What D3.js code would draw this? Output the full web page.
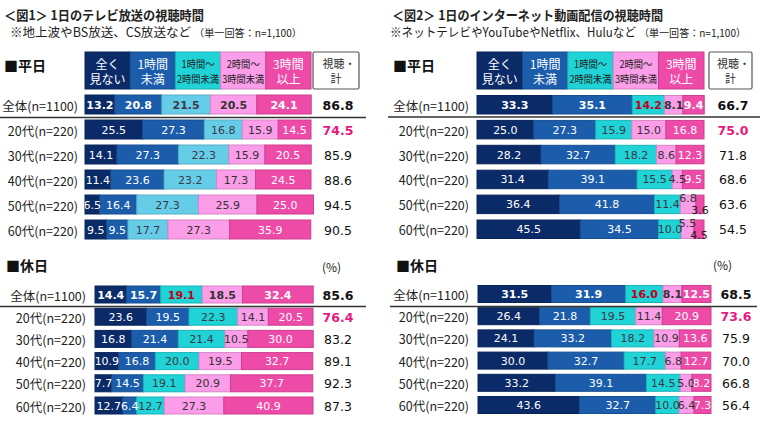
<!DOCTYPE html>
<html><head><meta charset="utf-8">
<script src="https://cdn.jsdelivr.net/npm/d3@7"></script>
<style>body{margin:0;background:#fff}svg{display:block}</style>
</head><body><svg id="c" width="760" height="427"></svg>
<script>
const categories = ["全体(n=1100)","20代(n=220)","30代(n=220)","40代(n=220)","50代(n=220)","60代(n=220)"];
const seriesNames = ["全く見ない","1時間未満","1時間〜2時間未満","2時間〜3時間未満","3時間以上"];
const headerLines = [["全く","見ない"],["1時間","未満"],["1時間〜","2時間未満"],["2時間〜","3時間未満"],["3時間","以上"]];
const totalHeader = ["視聴・","計"];

const tvWeekday = [[13.2,20.8,21.5,20.5,24.1],[25.5,27.3,16.8,15.9,14.5],[14.1,27.3,22.3,15.9,20.5],[11.4,23.6,23.2,17.3,24.5],[6.5,16.4,27.3,25.9,25.0],[9.5,9.5,17.7,27.3,35.9]];
const tvWeekdayTotal = [86.8,74.5,85.9,88.6,94.5,90.5];
const tvHoliday = [[14.4,15.7,19.1,18.5,32.4],[23.6,19.5,22.3,14.1,20.5],[16.8,21.4,21.4,10.5,30.0],[10.9,16.8,20.0,19.5,32.7],[7.7,14.5,19.1,20.9,37.7],[12.7,6.4,12.7,27.3,40.9]];
const tvHolidayTotal = [85.6,76.4,83.2,89.1,92.3,87.3];
const netWeekday = [[33.3,35.1,14.2,8.1,9.4],[25.0,27.3,15.9,15.0,16.8],[28.2,32.7,18.2,8.6,12.3],[31.4,39.1,15.5,4.5,9.5],[36.4,41.8,11.4,6.8,3.6],[45.5,34.5,10.0,5.5,4.5]];
const netWeekdayTotal = [66.7,75.0,71.8,68.6,63.6,54.5];
const netHoliday = [[31.5,31.9,16.0,8.1,12.5],[26.4,21.8,19.5,11.4,20.9],[24.1,33.2,18.2,10.9,13.6],[30.0,32.7,17.7,6.8,12.7],[33.2,39.1,14.5,5.0,8.2],[43.6,32.7,10.0,6.4,7.3]];
const netHolidayTotal = [68.5,73.6,75.9,70.0,66.8,56.4];

const JP = "'Noto Sans CJK JP','Noto Sans',sans-serif";
const NUM = "'DejaVu Sans',Verdana,sans-serif";
const palSky = ["#0b2a68","#1b5dab","#66cde9","#fb9de8","#ee4aa7"];
const palTeal = ["#0b2a68","#1b5dab","#1fd3d6","#fb9de8","#ee4aa7"];
const headPal = ["#0b2a68","#1b5dab","#1fd3d6","#fb9de8","#ee4aa7"];
const labelCol = ["#ffffff","#ffffff","#3d3845","#333333","#ffffff"];

const svg = d3.select("#c");
let clipId = 0;

function title(x, y, t1, w1, x2, y2, t2, w2, t3, w3) {
  svg.append("text").attr("x", x).attr("y", y).attr("font-family", JP).attr("font-weight", "bold")
    .attr("font-size", 13).attr("fill", "#222").attr("textLength", w1).attr("lengthAdjust", "spacingAndGlyphs").text(t1);
  svg.append("text").attr("x", x2).attr("y", y2).attr("font-family", JP).attr("fill", "#222")
    .attr("font-size", 12.5).attr("textLength", w2).attr("lengthAdjust", "spacingAndGlyphs").text(t2);
  svg.append("text").attr("x", x2 + w2 + 3).attr("y", y2).attr("font-family", JP).attr("fill", "#222")
    .attr("font-size", 10).attr("textLength", w3).attr("lengthAdjust", "spacingAndGlyphs").text(t3);
}

function sectionLabel(x, y, t) {
  svg.append("text").attr("x", x).attr("y", y).attr("font-family", JP).attr("font-weight", "bold")
    .attr("font-size", 14).attr("fill", "#111").attr("dominant-baseline", "central").text("■" + t);
}

function header(x0, x1, y0, y1, bx0, bx1) {
  const hb = d3.scaleBand().domain(d3.range(5)).range([x0, x1]);
  const g = svg.append("g");
  const sizes = [12, 12, 10.5, 10.5, 12];
  const cols = ["#fff", "#fff", "#222", "#222", "#fff"];
  d3.range(5).forEach(i => {
    g.append("rect").attr("x", hb(i)).attr("y", y0).attr("width", hb.bandwidth()).attr("height", y1 - y0)
      .attr("fill", headPal[i]).attr("stroke", d3.color(headPal[i]).darker(0.5)).attr("stroke-width", 1);
    const cx = hb(i) + hb.bandwidth() / 2, cy = (y0 + y1) / 2;
    headerLines[i].forEach((ln, j) => {
      const t = g.append("text").attr("x", cx).attr("y", cy + (j === 0 ? -7.5 : 7.5)).attr("text-anchor", "middle")
        .attr("dominant-baseline", "central").attr("font-family", JP).attr("font-size", sizes[i])
        .attr("fill", cols[i]).text(ln);
      if (sizes[i] < 11) t.attr("textLength", ln.length >= 5 ? 42 : 33).attr("lengthAdjust", "spacingAndGlyphs");
    });
  });
  g.append("rect").attr("x", bx0).attr("y", y0).attr("width", bx1 - bx0).attr("height", y1 - y0)
    .attr("fill", "#fff").attr("stroke", "#555").attr("stroke-width", 1.2).attr("rx", 1.5);
  totalHeader.forEach((ln, j) => {
    g.append("text").attr("x", (bx0 + bx1) / 2 + (j === 0 ? 3 : 0)).attr("y", (y0 + y1) / 2 + (j === 0 ? -7.5 : 7.5))
      .attr("text-anchor", "middle").attr("dominant-baseline", "central").attr("font-family", JP)
      .attr("font-size", 11).attr("fill", "#333").text(ln);
  });
}

function panel(o) {
  const x = d3.scaleLinear().domain([0, 100]).range([o.x0, o.x1]);
  const p = 1 - o.barH / o.step;
  const y = d3.scaleBand().domain(categories).range([o.yTop, o.yTop + o.step * 5 + o.barH]).paddingInner(p).paddingOuter(0);
  const rows = categories.map((c, i) => ({ cat: c, vals: o.data[i] }));
  const stack = d3.stack().keys(d3.range(5)).value((d, k) => d.vals[k])(rows);
  const g = svg.append("g");
  stack.forEach((layer, k) => {
    g.selectAll(null).data(layer).join("rect")
      .attr("x", d => x(d[0])).attr("y", d => y(d.data.cat))
      .attr("width", d => x(d[1]) - x(d[0])).attr("height", y.bandwidth())
      .attr("fill", o.pal[k]).attr("stroke", d3.color(o.pal[k]).darker(0.45)).attr("stroke-width", 1);
  });
  const id = "clip" + (clipId++);
  svg.append("clipPath").attr("id", id).append("rect").attr("x", o.x0).attr("y", 0).attr("width", 760 - o.x0).attr("height", 427);
  const lg = svg.append("g").attr("clip-path", `url(#${id})`);
  stack.forEach((layer, k) => {
    layer.forEach((d, i) => {
      const last = d.data.vals[4];
      let dy = 0, col = labelCol[k];
      if (last < 5 && k === 4) { dy = 5.5; col = "#222"; }
      if (last < 5 && k === 3) dy = -6.5;
      if (i === 0 && k === 2 && o.redTotalThird) col = "#c0001a";
      lg.append("text").attr("x", (x(d[0]) + x(d[1])) / 2).attr("y", y(d.data.cat) + y.bandwidth() / 2 + dy + 0.5)
        .attr("text-anchor", "middle").attr("dominant-baseline", "central")
        .attr("font-family", NUM).attr("font-size", 11).attr("font-weight", i === 0 ? "bold" : "normal")
        .attr("fill", col).text(d3.format(".1f")(d.data.vals[k]));
    });
  });
  g.selectAll(null).data(categories).join("text")
    .attr("x", o.labelRight).attr("y", d => y(d) + y.bandwidth() / 2 + 0.5)
    .attr("text-anchor", "end").attr("dominant-baseline", "central")
    .attr("font-family", JP).attr("font-size", 12.5).attr("fill", "#222").text(d => d);
  g.selectAll(null).data(o.totals).join("text")
    .attr("x", o.totalX).attr("y", (d, i) => y(categories[i]) + y.bandwidth() / 2 + 0.5)
    .attr("text-anchor", "middle").attr("dominant-baseline", "central")
    .attr("font-family", NUM).attr("font-size", 12.5)
    .attr("font-weight", (d, i) => i <= 1 ? "bold" : "normal")
    .attr("fill", (d, i) => i === 1 ? "#e8197f" : "#111").text(d => d3.format(".1f")(d));
  g.append("line").attr("x1", o.sepX0).attr("x2", o.sepX1).attr("y1", o.sepY).attr("y2", o.sepY)
    .attr("stroke", "#333").attr("stroke-width", 1.6);
}

// Left: TV
title(4, 19.5, "＜図1＞ 1日のテレビ放送の視聴時間", 200, 10, 36.5, "※地上波やBS放送、CS放送など", 181, "（単一回答：n=1,100）", 108);
sectionLabel(4, 65, "平日");
header(85, 311, 52, 89, 313, 359);
panel({ data: tvWeekday, totals: tvWeekdayTotal, x0: 85, x1: 311, yTop: 95, step: 25, barH: 19,
  labelRight: 78, totalX: 338, sepY: 117.5, sepX0: 0, sepX1: 366, pal: palSky, redTotalThird: false });
sectionLabel(6, 265, "休日");
svg.append("text").attr("x", 322).attr("y", 266).attr("font-family", JP).attr("font-size", 12)
  .attr("dominant-baseline", "central").attr("fill", "#222").text("(%)");
panel({ data: tvHoliday, totals: tvHolidayTotal, x0: 95, x1: 313, yTop: 286, step: 22.2, barH: 17,
  labelRight: 86, totalX: 338, sepY: 306.5, sepX0: 0, sepX1: 366, pal: palTeal, redTotalThird: true });

// Right: Internet
title(392, 19.5, "＜図2＞ 1日のインターネット動画配信の視聴時間", 271, 390, 36.5, "※ネットテレビやYouTubeやNetflix、Huluなど", 246, "（単一回答：n=1,100）", 107);
sectionLabel(393, 65, "平日");
header(477, 704, 52, 89, 709, 752);
panel({ data: netWeekday, totals: netWeekdayTotal, x0: 477, x1: 704, yTop: 95.5, step: 24.9, barH: 18.5,
  labelRight: 469, totalX: 733, sepY: 117, sepX0: 388, sepX1: 760, pal: palTeal, redTotalThird: true });
sectionLabel(396, 265, "休日");
svg.append("text").attr("x", 713).attr("y", 264).attr("font-family", JP).attr("font-size", 12)
  .attr("dominant-baseline", "central").attr("fill", "#222").text("(%)");
panel({ data: netHoliday, totals: netHolidayTotal, x0: 478, x1: 711, yTop: 285.5, step: 22.2, barH: 17,
  labelRight: 469, totalX: 736, sepY: 306.5, sepX0: 390, sepX1: 757, pal: palTeal, redTotalThird: true });
</script></body></html>
